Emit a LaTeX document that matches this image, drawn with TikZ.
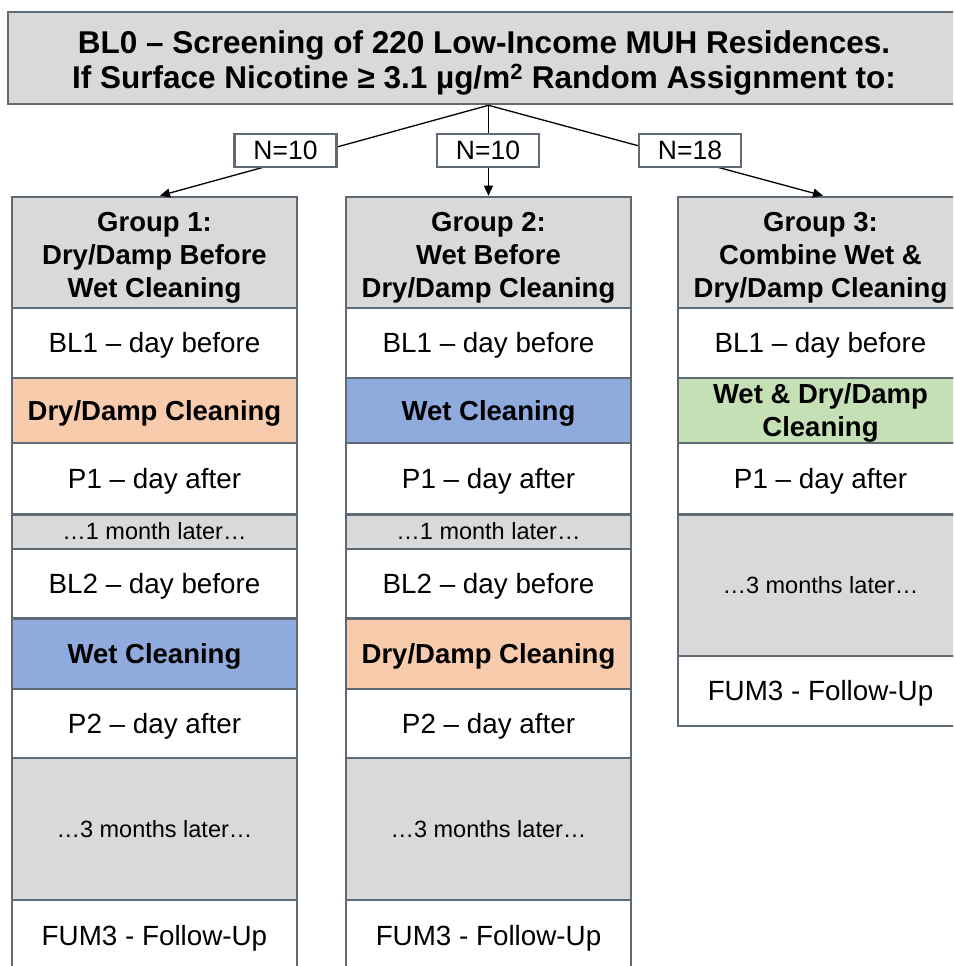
\documentclass[tikz,border=0pt]{standalone}
\usepackage{fontspec}
\setmainfont{Liberation Sans}
\usetikzlibrary{arrows.meta}
\definecolor{bord}{HTML}{5F6A75}
\definecolor{hgray}{HTML}{D9D9D9}
\definecolor{orng}{HTML}{F8CBAD}
\definecolor{blu}{HTML}{8FAADC}
\definecolor{grn}{HTML}{C5E0B4}
\newcommand\pptstrut{\rule[-0.212em]{0pt}{1.117em}}
\newcommand\liftline[1]{\rule{0pt}{#1}}
\tikzset{
  pptbox/.style={execute at begin node={\pptstrut}, execute at end node={\pptstrut}},
  cell/.style={pptbox, draw=bord, line width=2.6pt, rectangle, inner sep=0pt, minimum width=285pt, align=center, fill=white, font=\fontsize{27.8}{33}\selectfont},
  hdr/.style={cell, fill=hgray, font=\fontsize{27.5}{33}\selectfont\bfseries},
  boldcell/.style={cell, font=\fontsize{27.5}{33}\selectfont\bfseries},
  gapcell/.style={cell, fill=hgray, font=\fontsize{23.5}{28}\selectfont},
  nbox/.style={pptbox, draw=bord, line width=2.4pt, fill=white, rectangle, inner sep=0pt, minimum width=102pt, minimum height=33pt, font=\fontsize{26.5}{30}\selectfont},
  conn/.style={draw=black, line width=1.3pt, -{Triangle[length=10pt,width=9pt]}}
}
\begin{document}
\begin{tikzpicture}[x=1pt,y=-1pt]
\clip (0,0) rectangle (953,966);
\fill[white] (0,0) rectangle (953,966);
% top box
\node[draw=bord, line width=2.6pt, fill=hgray, rectangle, inner sep=0pt, minimum width=952pt, minimum height=92pt, align=center, font=\fontsize{31.5}{34.5}\selectfont\bfseries] (top) at (484,58)
  {\liftline{33pt}BL0 – Screening of 220 Low-Income MUH Residences.\\If Surface Nicotine ≥ 3.1 µg/m\textsuperscript{2} Random Assignment to:};
% column 1
\node[hdr, minimum height=111pt] (g1) at (154.5,252.5) {\liftline{30pt}Group 1:\\Dry/Damp Before\\Wet Cleaning};
\node[cell, minimum height=70pt] (g1a) at (154.5,343) {BL1 – day before};
\node[boldcell, fill=orng, minimum height=65pt] (g1b) at (154.5,410.5) {Dry/Damp Cleaning};
\node[cell, minimum height=71.5pt] (g1c) at (154.5,478.75) {P1 – day after};
\node[gapcell, minimum height=34.5pt] (g1d) at (154.5,531.75) {…1 month later…};
\node[cell, minimum height=69.5pt] (g1e) at (154.5,583.75) {BL2 – day before};
\node[boldcell, fill=blu, minimum height=70.5pt] (g1f) at (154.5,653.75) {Wet Cleaning};
\node[cell, minimum height=69pt] (g1g) at (154.5,723.5) {P2 – day after};
\node[gapcell, minimum height=142pt] (g1h) at (154.5,829) {…3 months later…};
\node[cell, minimum height=72pt] (g1i) at (154.5,936) {FUM3 - Follow-Up};
% column 2
\node[hdr, minimum height=111pt] (g2) at (488.5,252.5) {\liftline{30pt}Group 2:\\Wet Before\\Dry/Damp Cleaning};
\node[cell, minimum height=70pt] (g2a) at (488.5,343) {BL1 – day before};
\node[boldcell, fill=blu, minimum height=65pt] (g2b) at (488.5,410.5) {Wet Cleaning};
\node[cell, minimum height=71.5pt] (g2c) at (488.5,478.75) {P1 – day after};
\node[gapcell, minimum height=34.5pt] (g2d) at (488.5,531.75) {…1 month later…};
\node[cell, minimum height=69.5pt] (g2e) at (488.5,583.75) {BL2 – day before};
\node[boldcell, fill=orng, minimum height=70.5pt] (g2f) at (488.5,653.75) {Dry/Damp Cleaning};
\node[cell, minimum height=69pt] (g2g) at (488.5,723.5) {P2 – day after};
\node[gapcell, minimum height=142pt] (g2h) at (488.5,829) {…3 months later…};
\node[cell, minimum height=72pt] (g2i) at (488.5,936) {FUM3 - Follow-Up};
% column 3
\node[hdr, minimum height=111pt] (g3) at (820.5,252.5) {\liftline{30pt}Group 3:\\Combine Wet \&\\Dry/Damp Cleaning};
\node[cell, minimum height=70pt] (g3a) at (820.5,343) {BL1 – day before};
\node[boldcell, fill=grn, minimum height=65pt] (g3b) at (820.5,410.5) {\liftline{25pt}Wet \& Dry/Damp\\Cleaning};
\node[cell, minimum height=71.5pt] (g3c) at (820.5,478.75) {P1 – day after};
\node[gapcell, minimum height=141.5pt] (g3d) at (820.5,585.25) {…3 months later…};
\node[cell, minimum height=70pt] (g3e) at (820.5,691) {FUM3 - Follow-Up};
% connectors
\coordinate (split) at (top.south -| g2.north);
\draw[conn] (split) -- ([xshift=5.5pt]g1.north);
\draw[conn] (split) -- (g2.north);
\draw[conn] (split) -- ([xshift=2.5pt]g3.north);
% N boxes
\node[nbox] (n1) at (285.5,150.5) {N=10};
\node[nbox] (n2) at (488,150.5) {N=10};
\node[nbox] (n3) at (690,150.5) {N=18};
\end{tikzpicture}
\end{document}
